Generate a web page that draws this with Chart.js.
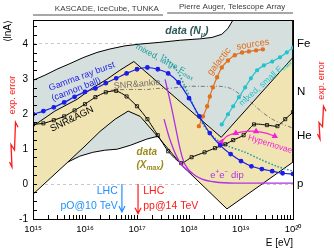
<!DOCTYPE html>
<html lang="en">
<head>
<meta charset="UTF-8">
<title>&lt;lnA&gt; vs energy</title>
<script src="https://cdn.jsdelivr.net/npm/chart.js@4.4.1/dist/chart.umd.min.js"></script>
<style>
  html, body { margin: 0; padding: 0; background: #fff; }
</style>
</head>
<body>
<canvas id="lnaChart" width="334" height="250"></canvas>
<script>
const FONT = '"Liberation Sans", Arial, Helvetica, sans-serif';
const RED = '#ff1a1a';
const BLUE = '#1c1ce8';

// x = log10(E/eV), y = <lnA>
const nmuUpper = [[15.00,2.97],[15.23,3.12],[15.46,3.29],[15.71,3.45],[15.96,3.62],[16.23,3.77],[16.48,3.87],[16.77,3.96],[17.06,4.01],[17.44,4.06],[17.83,4.12],[18.21,4.16],[18.44,4.20],[18.63,4.29],[18.75,4.46],[18.85,4.71],[18.95,5.0],[20.0,5.0]];
const nmuLower = [[20.0,2.14],[18.63,1.14],[18.02,1.29],[17.40,1.37],[17.19,1.29],[16.87,1.11],[16.62,1.00],[16.38,0.97],[16.15,0.91],[15.90,0.80],[15.67,0.63],[15.00,0.71]];
const xmaxUpper = [[15.00,1.66],[15.42,2.09],[15.85,2.43],[16.13,2.74],[16.42,3.00],[16.67,3.26],[16.94,3.51],[18.62,1.34],[20.0,3.63]];
const xmaxLower = [[20.0,0.63],[18.73,-0.71],[17.88,0.51],[17.44,1.29],[17.06,1.94],[16.83,2.09],[16.58,1.86],[16.29,1.51],[16.00,1.09],[15.67,0.63],[15.00,-0.29]];

const grbPts = [[15.0,2.00],[15.2,2.09],[15.4,2.20],[15.6,2.34],[15.8,2.50],[16.0,2.64],[16.2,2.74],[16.4,2.89],[16.6,3.03],[16.8,3.17],[17.0,3.29],[17.2,3.34],[17.4,3.29],[17.6,3.17],[17.8,2.91],[18.0,2.46],[18.2,1.94],[18.4,1.46],[18.6,1.11],[18.8,0.86],[19.0,0.66],[19.2,0.51],[19.4,0.43],[19.6,0.37],[19.8,0.31],[20.0,0.29]];
const snrAgnPts = [[15.0,1.71],[15.2,1.74],[15.4,1.83],[15.6,1.94],[15.8,2.11],[16.0,2.29],[16.2,2.49],[16.4,2.63],[16.6,2.67],[16.8,2.51],[17.0,2.23],[17.2,1.86],[17.4,1.40],[17.6,0.94],[17.85,0.60],[18.05,0.77],[18.3,0.91],[18.5,1.03],[18.7,1.14],[18.85,1.26],[19.05,1.40],[19.25,1.71],[19.5,1.69],[19.7,1.66],[19.85,1.86],[20.0,2.06]];
const snrAnklePts = [[16.5,2.69],[16.8,2.71],[17.0,2.71],[17.2,2.71],[17.4,2.74],[17.6,2.74],[17.8,2.77],[18.0,2.80],[18.2,2.80],[18.4,2.80],[18.6,2.80],[18.8,2.74],[19.0,2.55],[19.2,2.33],[19.4,2.07],[19.6,1.86],[19.8,1.72],[20.0,1.60]];
const largeEmaxPts = [[17.50,3.71],[17.63,3.51],[17.79,3.20],[17.92,2.80],[18.06,2.34],[18.19,1.91],[18.35,1.54],[18.52,1.29],[18.75,1.09],[19.08,0.91],[19.37,0.71],[19.69,0.51],[20.0,0.37]];
const galacticPts = [[18.19,1.66],[18.27,1.94],[18.35,2.23],[18.40,2.51],[18.46,2.77],[18.54,3.06],[18.63,3.34],[18.75,3.54],[18.88,3.69],[19.02,3.77],[19.15,3.80],[19.29,3.83],[19.42,3.86]];
const smallEmaxPts = [[18.63,1.71],[18.75,2.00],[18.85,2.23],[18.96,2.49],[19.08,2.77],[19.19,3.03],[19.31,3.26],[19.44,3.40],[19.60,3.51],[19.75,3.63],[19.88,3.77],[20.0,3.91]];
const hypernovaPts = [[18.62,1.20],[18.73,1.37],[18.90,1.46],[19.10,1.51],[19.29,1.51],[19.48,1.46],[19.65,1.37]];
const dipPtsA = [[17.54,3.00],[17.65,2.29],[17.75,1.57],[17.83,1.00],[17.92,0.57],[18.06,0.31],[18.25,0.14],[18.50,0.06],[18.88,0.03],[20.0,0.03]];
const dipPtsB = [[17.52,1.86],[17.63,1.29],[17.75,0.83],[17.88,0.51],[18.06,0.31]];

const decades = [15, 16, 17, 18, 19, 20];
const massLnA = [0, 1.386, 2.639, 4.025];
const massLabels = ['p', 'He', 'N', 'Fe'];

const sup = n => String(n).split('').map(d => '⁰¹²³⁴⁵⁶⁷⁸⁹'[+d]).join('');
const toXY = pts => pts.map(([x, y]) => ({ x, y }));

// minor ticks at 2..9 x 10^n
const xTickVals = [];
decades.forEach(d => {
    for (let k = 1; k < 10; k++) {
        const v = +(d + Math.log10(k)).toFixed(4);
        if (v <= 20) xTickVals.push(v);
    }
});
const yTickVals = [];
for (let v = -1; v <= 4.5; v += 0.25) yTickVals.push(v);

function line(pts, color, extra) {
    return Object.assign({
        data: toXY(pts), borderColor: color, backgroundColor: color,
        borderWidth: 1.2, pointRadius: 0, tension: 0.3, fill: false
    }, extra);
}

function drawText(ctx, parts, x, y, opt) {
    const size = opt.size || 9;
    const style = opt.style || '';
    ctx.save();
    ctx.translate(x, y);
    ctx.rotate((opt.rot || 0) * Math.PI / 180);
    ctx.fillStyle = opt.color;
    ctx.textBaseline = 'middle';
    ctx.textAlign = 'left';
    const fontFor = k => `${style} ${k ? size * 0.68 : size}px ${FONT}`;
    let w = 0;
    parts.forEach(([t, k]) => { ctx.font = fontFor(k); w += ctx.measureText(t).width; });
    let cx = opt.align === 'left' ? 0 : opt.align === 'right' ? -w : -w / 2;
    parts.forEach(([t, k]) => {
        ctx.font = fontFor(k);
        const dy = k === 'sub' ? size * 0.3 : k === 'sup' ? -size * 0.35 : 0;
        ctx.fillText(t, cx, dy);
        cx += ctx.measureText(t).width;
    });
    ctx.restore();
}

function arrowDown(ctx, x, y0, y1, color) {
    ctx.save();
    ctx.strokeStyle = color;
    ctx.lineWidth = 1.2;
    ctx.beginPath();
    ctx.moveTo(x, y0); ctx.lineTo(x, y1);
    ctx.moveTo(x - 3, y1 - 6); ctx.lineTo(x, y1); ctx.lineTo(x + 3, y1 - 6);
    ctx.stroke();
    ctx.restore();
}

function zigArrow(ctx, cx, y0, y1) {
    const h = y1 - y0;
    ctx.save();
    ctx.strokeStyle = RED;
    ctx.lineWidth = 1.3;
    ctx.beginPath();
    ctx.moveTo(cx + 4, y0 + 5);
    ctx.lineTo(cx + 1.5, y0);
    ctx.lineTo(cx + 0.5, y0 + h * 0.62);
    ctx.lineTo(cx - 3, y0 + h * 0.5);
    ctx.lineTo(cx - 2, y1);
    ctx.lineTo(cx - 4.5, y1 - 5);
    ctx.stroke();
    ctx.restore();
}

const annotations = {
    id: 'annotations',
    afterDatasetsDraw(chart) {
        const { ctx } = chart;
        const X = chart.scales.x, Y = chart.scales.y;
        const put = (parts, e, l, opt) => drawText(ctx, parts, X.getPixelForValue(e), Y.getPixelForValue(l), opt);

        put([['Gamma ray burst']], 15.94, 3.08, { rot: -20, color: BLUE, size: 9 });
        put([['(cannon ball)']], 15.83, 2.71, { rot: -21, color: BLUE, size: 9 });
        put([['SNR&ankle']], 17.0, 2.86, { rot: -5, color: '#707070', size: 9 });
        put([['SNR&AGN']], 15.75, 1.86, { rot: -26, color: '#000', size: 9.5 });
        put([['mixed, large E'], ['max', 'sub']], 17.54, 3.51, { rot: 28, color: '#1a9c9c', size: 8.5 });
        put([['galactic']], 18.58, 3.51, { rot: -52, color: '#e2701f', size: 9.5 });
        put([['sources']], 19.23, 4.0, { rot: -9, color: '#e2701f', size: 9.5 });
        put([['mixed, small E'], ['max', 'sub']], 19.46, 2.91, { rot: -42, color: '#22c3cc', size: 8.5 });
        put([['data (N'], ['μ', 'sub'], [')']], 17.96, 4.37, { color: '#2d5656', size: 10.5, style: 'italic bold' });
        put([['data']], 17.19, 0.91, { color: '#9c8b1c', size: 10, style: 'italic bold' });
        put([['(X'], ['max', 'sub'], [')']], 17.25, 0.54, { color: '#9c8b1c', size: 10, style: 'italic bold' });
        put([['Hypernovae']], 19.56, 1.14, { rot: 17, color: '#f520dc', size: 8.5 });
        put([['e'], ['+', 'sup'], ['e'], ['−', 'sup'], [' dip']], 18.73, 0.25, { color: '#b030e6', size: 9.5 });

        // LHC energies
        put([['LHC']], 16.63, -0.2, { color: '#1e90ff', size: 10.5, align: 'right' });
        put([['pO@10 TeV']], 16.63, -0.63, { color: '#1e90ff', size: 10.5, align: 'right' });
        arrowDown(ctx, X.getPixelForValue(16.71), Y.getPixelForValue(0), Y.getPixelForValue(-0.8), '#1e90ff');
        put([['LHC']], 17.12, -0.2, { color: RED, size: 10.5, align: 'left' });
        put([['pp@14 TeV']], 17.12, -0.63, { color: RED, size: 10.5, align: 'left' });
        arrowDown(ctx, X.getPixelForValue(17.02), Y.getPixelForValue(0), Y.getPixelForValue(-0.85), RED);
    },
    afterDraw(chart) {
        const { ctx, chartArea: a } = chart;
        const X = chart.scales.x, Y = chart.scales.y;

        // experiments above the frame
        ctx.save();
        ctx.strokeStyle = '#8c8c8c';
        ctx.lineWidth = 1.5;
        ctx.beginPath();
        ctx.moveTo(X.getPixelForValue(15), a.top - 5); ctx.lineTo(X.getPixelForValue(17.5), a.top - 5);
        ctx.moveTo(X.getPixelForValue(17.58), a.top - 7); ctx.lineTo(X.getPixelForValue(20), a.top - 7);
        ctx.stroke();
        ctx.restore();
        drawText(ctx, [['KASCADE, IceCube, TUNKA']], X.getPixelForValue(16.42), a.top - 11, { color: '#3c3c3c', size: 8 });
        drawText(ctx, [['Pierre Auger, Telescope Array']], X.getPixelForValue(18.83), a.top - 13, { color: '#3c3c3c', size: 8 });

        // experimental error markers
        drawText(ctx, [['exp. error']], a.left - 20, Y.getPixelForValue(2.55), { rot: -90, color: RED, size: 9 });
        drawText(ctx, [['exp. error']], a.right + 29, Y.getPixelForValue(2.97), { rot: -90, color: RED, size: 9 });
        zigArrow(ctx, a.left - 19, Y.getPixelForValue(1.77), Y.getPixelForValue(0.49));
        zigArrow(ctx, a.right + 29, Y.getPixelForValue(2.23), Y.getPixelForValue(1.29));
    }
};

const ctx = document.getElementById('lnaChart').getContext('2d');
const chart = new Chart(ctx, {
    type: 'line',
    data: {
        datasets: [
            { data: toXY(nmuUpper.concat(nmuLower)), fill: 'shape', backgroundColor: '#d4dfde', borderColor: '#000', borderWidth: 1, pointRadius: 0, tension: 0, order: 20, clip: 0 },
            { data: toXY(xmaxUpper.concat(xmaxLower)), fill: 'shape', backgroundColor: '#f0e4b3', borderColor: '#000', borderWidth: 1, pointRadius: 0, tension: 0, order: 19, clip: 0 },
            line(snrAnklePts, '#777', { borderDash: [4, 2, 1, 2], borderWidth: 1, order: 10 }),
            line(largeEmaxPts, '#1a9c9c', { borderDash: [1.5, 1.8], borderWidth: 1.5, order: 9 }),
            line(snrAgnPts, '#000', { pointStyle: 'rect', pointRadius: 2.2, pointBackgroundColor: 'rgba(255,255,255,0)', pointBorderColor: '#000', pointBorderWidth: 0.8, borderWidth: 1, tension: 0.2, order: 8 }),
            line(dipPtsA, '#b030e6', { borderWidth: 1.3, tension: 0.35, order: 7 }),
            line(dipPtsB, '#b030e6', { borderWidth: 1.3, tension: 0.35, order: 7 }),
            line(galacticPts, '#e2701f', { pointRadius: 1.6, order: 6 }),
            line(smallEmaxPts, '#22c3cc', { pointRadius: 1.5, order: 5 }),
            line(hypernovaPts, '#f520dc', { pointStyle: 'triangle', pointRadius: [3, 0, 2.5, 0, 2.5, 0, 2.5], pointRotation: [270, 0, 0, 0, 0, 0, 0], order: 4 }),
            line(grbPts, BLUE, { pointRadius: 1.8, order: 3 })
        ]
    },
    options: {
        responsive: false,
        animation: false,
        events: [],
        layout: { padding: 0 },
        plugins: { legend: { display: false }, tooltip: { enabled: false } },
        scales: {
            x: {
                type: 'linear', position: 'bottom', min: 15, max: 20,
                afterBuildTicks: s => { s.ticks = xTickVals.map(v => ({ value: v })); },
                afterFit: s => { s.height = 31; },
                ticks: {
                    autoSkip: false, maxRotation: 0, padding: 9, color: '#000',
                    font: { family: FONT, size: 9.5 },
                    callback: v => Number.isInteger(v) ? '10' + sup(v) : ''
                },
                grid: { drawOnChartArea: false, tickLength: -4, color: '#000', z: 1 },
                border: { color: '#000', z: 1 },
                title: { display: true, text: 'E [eV]', align: 'end', color: '#000', font: { family: FONT, size: 10 }, padding: { top: 0, bottom: 1 } }
            },
            x2: {
                type: 'linear', position: 'top', min: 15, max: 20,
                afterFit: s => { s.height = 20; },
                ticks: { display: false },
                grid: { drawOnChartArea: false, drawTicks: false },
                border: { color: '#000', z: 1 }
            },
            y: {
                type: 'linear', position: 'left', min: -1, max: 4.7,
                afterBuildTicks: s => { s.ticks = yTickVals.map(v => ({ value: v })); },
                afterFit: s => { s.width = 33; },
                ticks: {
                    autoSkip: false, padding: 9, color: '#000',
                    font: { family: FONT, size: 10 },
                    callback: v => Number.isInteger(v) ? String(v) : ''
                },
                grid: { drawOnChartArea: false, tickLength: -4, color: '#000', z: 1 },
                border: { color: '#000', z: 1 },
                title: { display: true, text: '⟨lnA⟩', align: 'end', color: '#000', font: { family: FONT, size: 10 }, padding: { top: 2, bottom: 0 } }
            },
            y2: {
                type: 'linear', position: 'right', min: -1, max: 4.7,
                afterBuildTicks: s => { s.ticks = massLnA.map(v => ({ value: v })); },
                afterFit: s => { s.width = 41; },
                ticks: {
                    autoSkip: false, padding: 4, color: '#000',
                    font: { family: FONT, size: 11.5 },
                    callback: (v, i) => massLabels[i]
                },
                grid: { drawOnChartArea: true, drawTicks: false, color: '#c8c8c8', lineWidth: 1 },
                border: { color: '#000', z: 1, dash: [3, 3] }
            }
        }
    },
    plugins: [annotations]
});
</script>
</body>
</html>
